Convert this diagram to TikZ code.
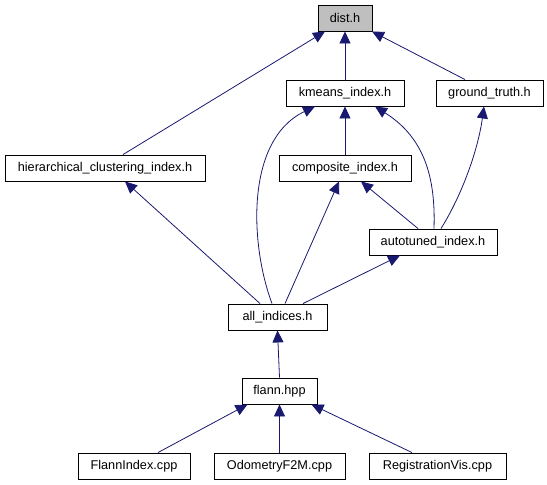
\documentclass[tikz,border=0pt]{standalone}
\usepackage{fontspec}
\setmainfont{Liberation Sans}
\usetikzlibrary{arrows.meta,calc}
\definecolor{edgecol}{RGB}{25,25,112}
\definecolor{grayfill}{RGB}{191,191,191}
\tikzset{
  file/.style={draw=black,line width=0.9pt,fill=white,minimum height=26pt,inner sep=0pt,font=\fontsize{12.7pt}{14pt}\selectfont},
  edge/.style={draw=edgecol,line width=0.8pt,-{Triangle[length=12pt,width=11pt]}}
}
\begin{document}
\begin{tikzpicture}[x=1pt,y=-1pt]
\useasboundingbox (0,0) rectangle (547,485);
\node[file,fill=grayfill,minimum width=54pt] (dist) at (345,18) {dist.h};
\node[file,minimum width=118pt] (km) at (345,93) {kmeans\_index.h};
\node[file,minimum width=107pt] (gt) at (489.5,93) {ground\_truth.h};
\node[file,minimum width=200pt] (hier) at (105,168) {hierarchical\_clustering\_index.h};
\node[file,minimum width=132pt] (comp) at (345,168) {composite\_index.h};
\node[file,minimum width=128pt] (auto) at (433,242) {autotuned\_index.h};
\node[file,minimum width=99pt] (all) at (277.5,317) {all\_indices.h};
\node[file,minimum width=75pt] (flann) at (279.5,391) {flann.hpp};
\node[file,minimum width=112pt] (fi) at (134,466) {FlannIndex.cpp};
\node[file,minimum width=131pt] (odo) at (279.5,466) {OdometryF2M.cpp};
\node[file,minimum width=137pt] (reg) at (437.5,466) {RegistrationVis.cpp};

\draw[edge] ($(hier.north)+(18,0)$) -- ($(dist.south)+(-20,0)$);
\draw[edge] (km.north) -- (dist.south);
\draw[edge] ($(gt.north)+(-24.5,0)$) -- ($(dist.south)+(27,0)$);
\draw[edge] (comp.north) -- (km.south);
\draw[edge] ($(all.north)+(-5.5,0)$) .. controls (250,245) and (245,140) .. ($(km.south)+(-30,0)$);
\draw[edge] ($(auto.north)+(1,0)$) .. controls (436,170) and (420,135) .. ($(km.south)+(30,0)$);
\draw[edge] ($(auto.north)+(8,0)$) .. controls (462,195) and (478,150) .. ($(gt.south)+(-5.5,0)$);
\draw[edge] ($(auto.north)+(-15,0)$) -- ($(comp.south)+(16,0)$);
\draw[edge] ($(all.north)+(7.5,0)$) -- ($(comp.south)+(-6,0)$);
\draw[edge] ($(all.north)+(25.5,0)$) -- ($(auto.south)+(-33,0)$);
\draw[edge] ($(all.north)+(-17.5,0)$) -- ($(hier.south)+(20,0)$);
\draw[edge] (flann.north) -- (all.south);
\draw[edge] ($(fi.north)+(24,0)$) -- ($(flann.south)+(-32,0)$);
\draw[edge] (odo.north) -- (flann.south);
\draw[edge] ($(reg.north)+(-25.5,0)$) -- ($(flann.south)+(32,0)$);
\end{tikzpicture}
\end{document}
